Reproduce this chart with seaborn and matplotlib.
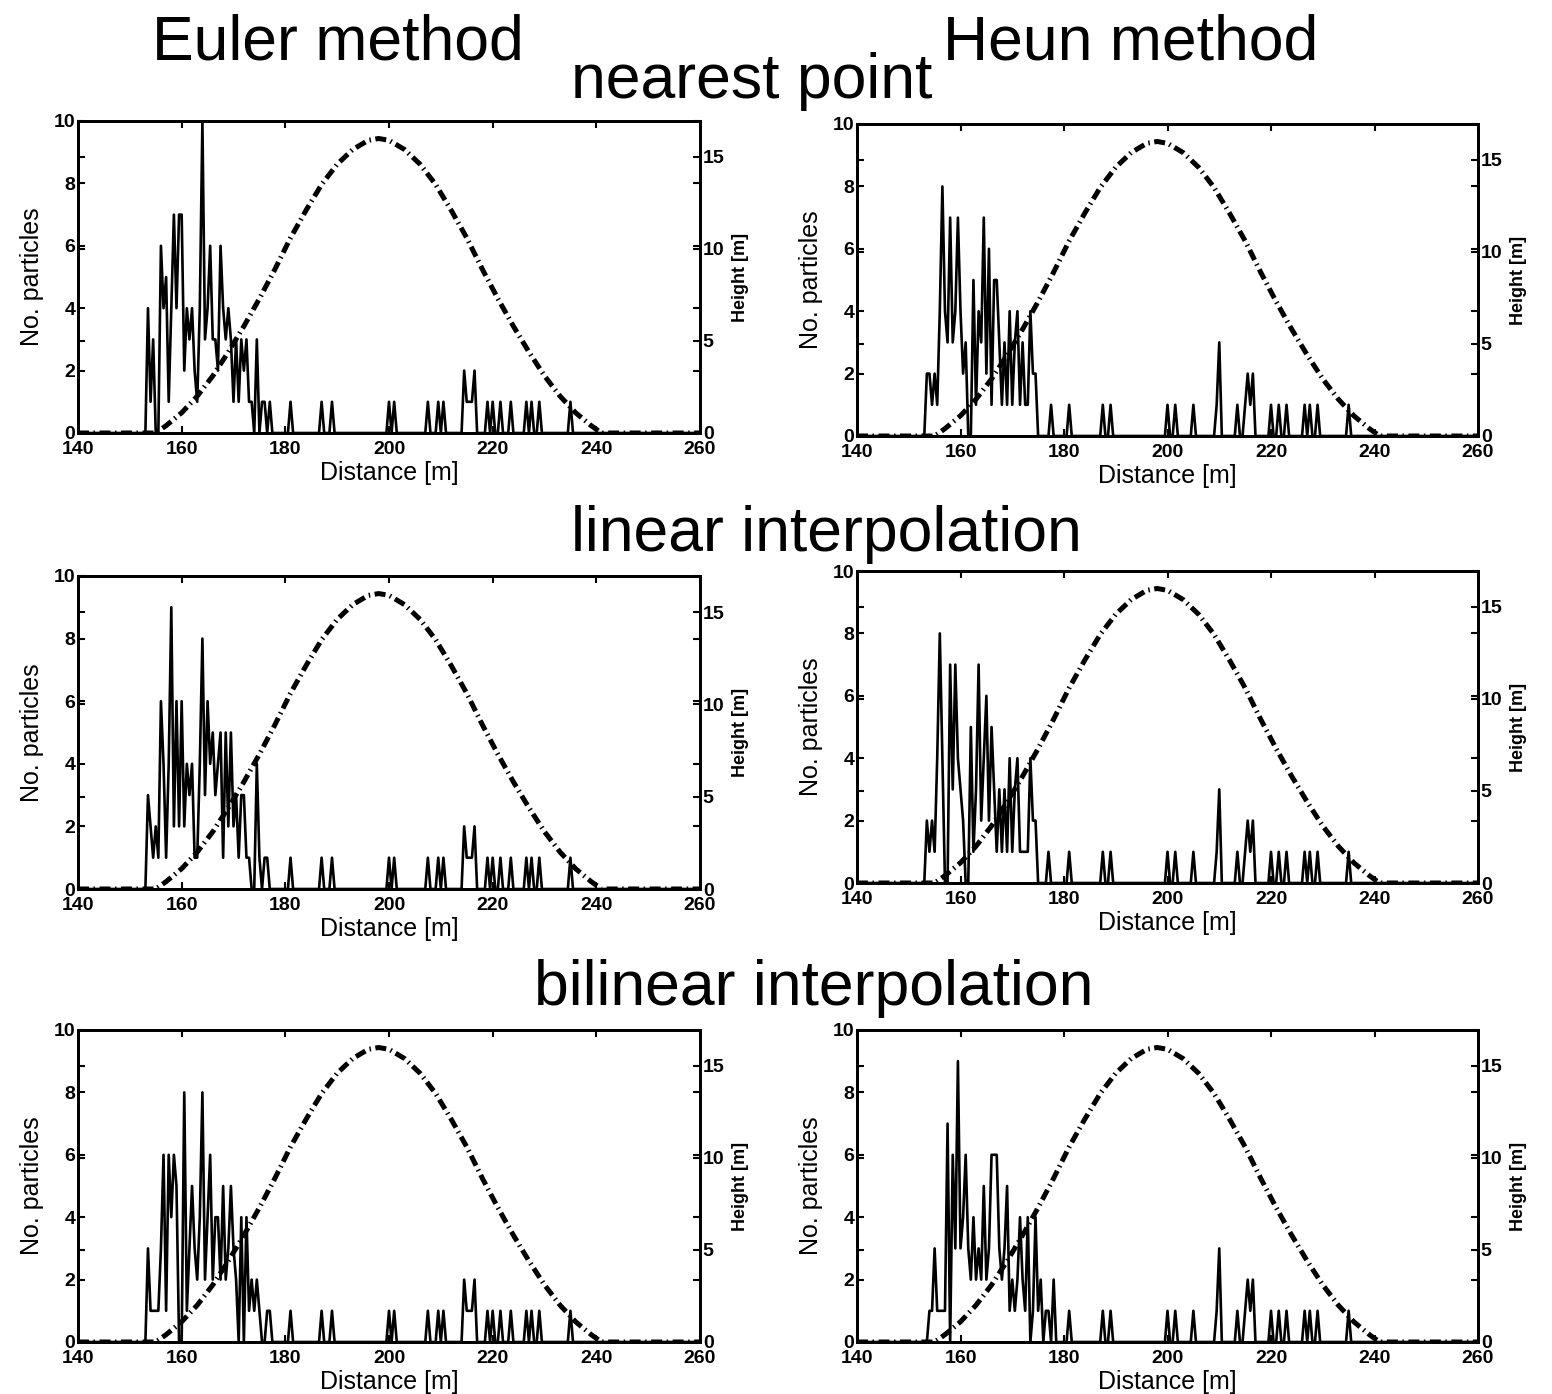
import numpy as np
import pandas as pd
import matplotlib
matplotlib.use("Agg")
import matplotlib.pyplot as plt
import seaborn as sns

sns.set_theme(style="ticks")
plt.rcParams['font.family'] = ['Liberation Sans', 'DejaVu Sans']
plt.rcParams['text.color'] = 'black'
plt.rcParams['axes.labelcolor'] = 'black'
plt.rcParams['xtick.color'] = 'black'
plt.rcParams['ytick.color'] = 'black'

# ---------------- data ----------------
x_min, x_max, step = 140.0, 260.0, 0.5
dense_start = 153.0  # first sample of the dense lists (0.5 m spacing)

euler_nearest = [0, 4, 1, 3, 0, 0, 6, 4, 5, 1,
                 4, 7, 4, 7, 7, 2, 4, 3, 4, 2,
                 1, 4, 10, 3, 4, 6, 3, 3, 2, 6,
                 4, 3, 4, 3, 1, 3, 1, 3, 2, 3,
                 1, 1, 0, 3, 0, 1, 1, 0, 1, 0,
                 0, 0]
heun_nearest = [0, 2, 2, 1, 2, 1, 4, 8, 4, 3,
                7, 3, 4, 7, 4, 2, 3, 0, 0, 5,
                1, 4, 3, 7, 2, 6, 1, 5, 5, 3,
                1, 3, 1, 4, 1, 3, 4, 1, 3, 1,
                1, 4, 2, 2, 0, 0, 0, 0, 0, 1,
                0, 0]
euler_linear = [0, 3, 2, 1, 2, 1, 6, 4, 1, 4,
                9, 2, 6, 2, 6, 2, 4, 3, 4, 1,
                1, 4, 8, 3, 6, 4, 5, 3, 4, 5,
                1, 5, 2, 5, 2, 3, 1, 3, 3, 1,
                1, 0, 0, 4, 1, 0, 1, 1, 0, 0,
                0, 0]
heun_linear = [0, 2, 1, 2, 1, 4, 8, 4, 0, 0,
               7, 3, 7, 4, 3, 2, 0, 0, 5, 1,
               3, 7, 2, 4, 6, 2, 5, 3, 1, 3,
               1, 3, 1, 4, 1, 3, 4, 1, 1, 1,
               1, 4, 2, 2, 0, 0, 0, 0, 1, 0,
               0, 0]
euler_bilinear = [0, 3, 1, 1, 1, 1, 3, 6, 1, 6,
                  4, 6, 5, 0, 0, 8, 1, 3, 5, 3,
                  2, 4, 8, 2, 4, 6, 2, 4, 4, 2,
                  5, 2, 3, 5, 3, 2, 0, 4, 0, 4,
                  1, 2, 1, 2, 1, 0, 0, 1, 1, 0,
                  0, 0]
heun_bilinear = [0, 0, 1, 1, 3, 1, 1, 1, 1, 7,
                 0, 6, 3, 9, 3, 4, 6, 3, 2, 4,
                 2, 3, 2, 5, 2, 3, 6, 6, 6, 3,
                 2, 3, 5, 1, 2, 1, 2, 4, 2, 1,
                 4, 0, 1, 4, 1, 2, 0, 1, 1, 0,
                 2, 0]

euler_tail_pos = [181.0, 187.0, 189.0, 200.0, 201.0, 207.5, 209.5, 210.5, 214.5, 215.0,
                  215.5, 216.0, 216.5, 219.0, 220.0, 221.5, 223.5, 226.5, 227.5, 229.0, 235.0]
euler_tail_cnt = [1, 1, 1, 1, 1, 1, 1, 1, 2, 1,
                  1, 1, 2, 1, 1, 1, 1, 1, 1, 1, 1]
heun_tail_pos = [181.0, 187.5, 189.0, 200.0, 201.5, 205.0, 209.5, 210.0, 213.5, 215.0,
                 215.5, 216.0, 216.5, 220.0, 221.5, 223.0, 226.5, 227.5, 229.0, 235.0]
heun_tail_cnt = [1, 1, 1, 1, 1, 1, 1, 3, 1, 1,
                 2, 1, 2, 1, 1, 1, 1, 1, 1, 1]

hill_x = [140, 150, 155, 157, 160, 163, 166, 169, 172, 175, 178, 181, 184, 187, 190, 193, 196,
          198, 200, 203, 206, 209, 212, 215, 218, 221, 224, 227, 230, 233, 236, 239, 241, 250, 260]
hill_h = [0, 0, 0, 0.4, 1.1, 2.0, 3.1, 4.4, 5.8, 7.3, 8.9, 10.6, 12.1, 13.5, 14.6, 15.4, 15.9,
          16.0, 15.9, 15.4, 14.6, 13.5, 12.1, 10.6, 8.9, 7.3, 5.8, 4.4, 3.1, 2.0, 1.1, 0.4, 0, 0, 0]

x_ticks = [140, 160, 180, 200, 220, 240, 260]
left_ticks = [0, 2, 4, 6, 8, 10]
right_ticks = [0, 5, 10, 15]

col_titles = ["Euler method", "Heun method"]
row_titles = ["nearest point", "linear interpolation", "bilinear interpolation"]


def build(dense, tail_pos, tail_cnt):
    x = np.round(np.arange(x_min, x_max + step / 2, step), 1)
    y = np.zeros_like(x)
    i0 = int(round((dense_start - x_min) / step))
    y[i0:i0 + len(dense)] = dense
    for p, c in zip(tail_pos, tail_cnt):
        y[int(round((p - x_min) / step))] = c
    return pd.DataFrame({"Distance": x, "Count": y})


W, H = 1552, 1394
fig = plt.figure(figsize=(W / 100, H / 100), dpi=100)
fig.patch.set_facecolor("white")

# (left, right, top, bottom) in pixels
boxes = [
    (78, 700, 121, 433), (857, 1478, 124, 436),
    (78, 700, 576, 889), (857, 1478, 571, 883),
    (78, 700, 1030, 1342), (857, 1478, 1030, 1342),
]
panels = [
    (euler_nearest, euler_tail_pos, euler_tail_cnt),
    (heun_nearest, heun_tail_pos, heun_tail_cnt),
    (euler_linear, euler_tail_pos, euler_tail_cnt),
    (heun_linear, heun_tail_pos, heun_tail_cnt),
    (euler_bilinear, euler_tail_pos, euler_tail_cnt),
    (heun_bilinear, heun_tail_pos, heun_tail_cnt),
]

dash_dot = (0, (2.2, 0.9, 0.3, 0.9))

for (l, r, t, b), (dense, tp, tc) in zip(boxes, panels):
    ax = fig.add_axes([l / W, 1 - b / H, (r - l) / W, (b - t) / H])
    df = build(dense, tp, tc)
    sns.lineplot(data=df, x="Distance", y="Count", ax=ax, color="black", linewidth=1.9)
    ax2 = ax.twinx()
    sns.lineplot(x=hill_x, y=hill_h, ax=ax2, color="black", linewidth=3.6, linestyle=dash_dot)

    ax.set_xlim(x_min, x_max)
    ax.set_ylim(0, 10)
    ax2.set_ylim(0, 16.95)
    ax.set_xticks(x_ticks)
    ax.set_yticks(left_ticks)
    ax2.set_yticks(right_ticks)
    ax.set_xticklabels([str(v) for v in x_ticks], fontweight="bold")
    ax.set_yticklabels([str(v) for v in left_ticks], fontweight="bold")
    ax2.set_yticklabels([str(v) for v in right_ticks], fontweight="bold")

    ax.tick_params(axis="both", direction="in", top=True, right=True, length=5, width=1.5,
                   labelsize=14, pad=2, colors="black")
    ax.tick_params(axis="x", pad=6)
    ax2.tick_params(axis="y", direction="in", left=True, right=True, labelleft=False,
                    labelright=True, length=5, width=1.5, labelsize=14, pad=2, colors="black")

    for a in (ax, ax2):
        for s in a.spines.values():
            s.set_linewidth(2)
            s.set_color("black")

    ax.set_xlabel("Distance [m]", fontsize=18, color="black")
    ax.set_ylabel("No. particles", fontsize=18, color="black")
    ax2.set_ylabel("Height [m]", fontsize=13, fontweight="bold", color="black")
    ax.xaxis.set_label_coords(0.5, -0.09)
    ax.yaxis.set_label_coords(-0.055, 0.5)
    ax2.yaxis.set_label_coords(1.052, 0.5)

fig.text(338 / W, 1 - 60 / H, col_titles[0], fontsize=45, ha="center", va="baseline", color="black")
fig.text(1131 / W, 1 - 60 / H, col_titles[1], fontsize=45, ha="center", va="baseline", color="black")
fig.text(752 / W, 1 - 98 / H, row_titles[0], fontsize=45, ha="center", va="baseline", color="black")
fig.text(826 / W, 1 - 551 / H, row_titles[1], fontsize=45, ha="center", va="baseline", color="black")
fig.text(814 / W, 1 - 1005 / H, row_titles[2], fontsize=45, ha="center", va="baseline", color="black")

fig.savefig("out.png", dpi=100, facecolor="white")
